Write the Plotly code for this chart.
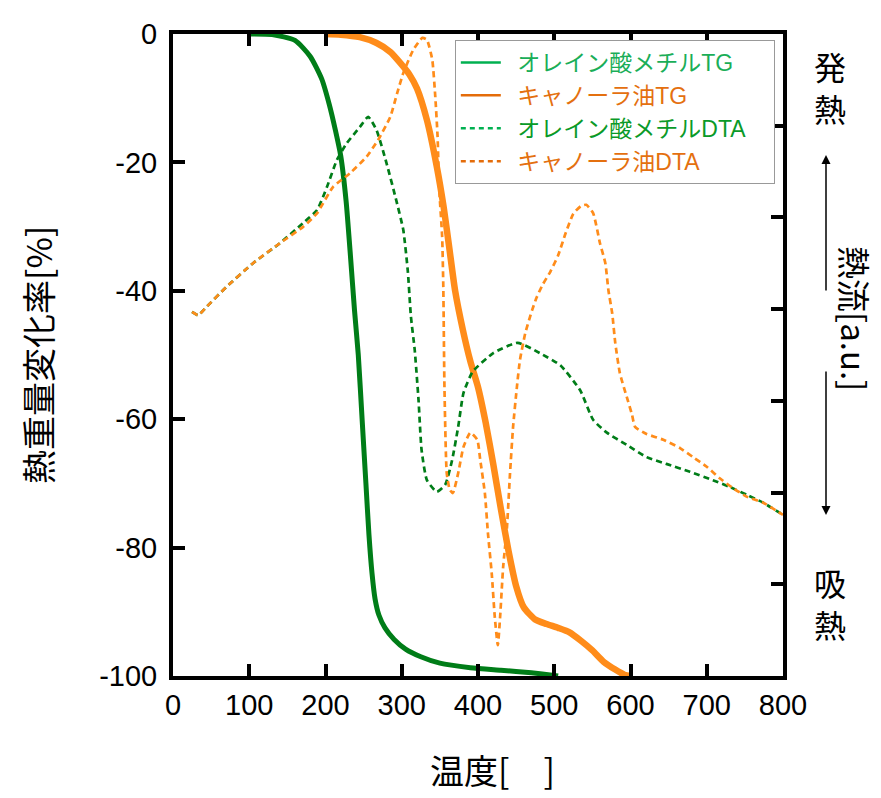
import plotly.graph_objects as go

# ---------------- data ----------------
# TG (left axis, %)
tg_green_T = [100, 130, 160, 180, 195, 205, 213, 220, 227, 233, 238, 243, 248, 253, 257, 261, 265, 270, 278, 290, 305, 325, 350, 390, 430, 470, 500, 505]
tg_green_v = [0, -0.1, -1, -3.5, -7, -11, -15, -19, -26, -35, -43, -50, -60, -70, -78, -84, -88, -90.5, -92.5, -94.3, -95.8, -97, -98, -98.7, -99.1, -99.5, -99.9, -100]

tg_orange_T = [200, 220, 245, 267, 285, 298, 310, 320, 333, 346, 355, 362, 370, 380, 390, 400, 410, 420, 430, 440, 450, 460, 475, 490, 505, 520, 535, 550, 565, 580, 592, 600]
tg_orange_v = [0, -0.1, -0.5, -1.4, -2.8, -4.5, -6.3, -8.5, -13.4, -20.7, -27, -33, -40, -46, -51, -55, -60.5, -67, -74, -80.5, -86, -89.3, -91.2, -91.9, -92.5, -93.2, -94.5, -96, -97.8, -99, -99.8, -100]

# DTA (right axis, a.u., expressed on the same 0..-100 scale)
dta_green_T = [25, 33, 44, 70, 105, 140, 171, 189, 202, 215, 228, 245, 256, 267, 280, 293, 302, 308, 312, 317, 322, 326, 333, 346, 357, 366, 374, 381, 393, 420, 452, 481, 508, 534, 551, 569, 595, 621, 648, 678, 708, 731, 753, 774, 800]
dta_green_v = [-43.3, -43.8, -42.5, -39.4, -35.7, -32.6, -29.4, -27.4, -23.8, -19.6, -17, -14.5, -12.9, -15, -20.1, -26, -30.5, -37, -44, -49.2, -57, -64.8, -69.5, -71.3, -70.2, -66.4, -61.2, -55.9, -52.6, -49.7, -48.1, -49.7, -51.6, -55.5, -60.1, -62.1, -64, -65.9, -67, -68.2, -69.5, -70.6, -71.8, -73, -74.9]

dta_orange_T = [25, 33, 44, 70, 105, 140, 171, 189, 210, 232, 254, 269, 285, 294, 302, 315, 327, 333, 340, 344, 347, 349, 353, 354.5, 355, 356, 359, 363, 367, 374, 381, 390, 399, 403, 409, 413, 418, 422, 426, 429, 433, 438, 442, 446, 451, 455, 462, 471, 477, 485, 495, 505, 515, 525, 535, 542, 551, 560, 567, 571, 576, 580, 586, 595, 602, 606, 621, 643, 665, 682, 700, 717, 734, 753, 774, 800]
dta_orange_v = [-43.3, -43.8, -42.5, -39.4, -35.7, -32.6, -30, -27.9, -23.8, -21.7, -19.1, -16.5, -12.9, -9.2, -6.1, -2.5, -0.6, -0.9, -4, -9.8, -16, -23.8, -31.6, -39.4, -44.5, -55, -68.4, -71, -71.5, -68.4, -64.3, -62.1, -63.2, -66.4, -71.5, -77.7, -84, -90.8, -95.2, -90.8, -83, -76.8, -68.4, -61.2, -55, -50.8, -46.6, -43, -41, -39, -37, -34.5, -31, -28, -26.8, -26.6, -27.9, -32.6, -35.7, -39.9, -43.5, -48.1, -52.8, -56.5, -59.3, -61.2, -62.3, -63.2, -64.5, -65.9, -67.4, -69.2, -70.7, -72.1, -73, -74.9]

x_ticks = [0, 100, 200, 300, 400, 500, 600, 700, 800]
y_ticks = [0, -20, -40, -60, -80, -100]
y_ticktext = ["0", "-20", "-40", "-60", "-80", "-100"]
y2_ticks = [-100 * k / 7 for k in range(1, 7)]

legend_names = ["オレイン酸メチルTG", "キャノーラ油TG", "オレイン酸メチルDTA", "キャノーラ油DTA"]

# ---------------- style ----------------
GREEN = "#007d18"
ORANGE = "#ff8c1a"
LEG_GREEN = "#00b050"
LEG_ORANGE = "#e46c0a"
LEG_TXT = ["#1aae58", "#e4700f", "#0a9a28", "#e4700f"]
FONT = "Liberation Sans, Arial, Noto Sans CJK JP"
CJK = "Noto Sans CJK JP"

fig = go.Figure()

fig.add_trace(go.Scatter(x=tg_green_T, y=tg_green_v, mode="lines", line=dict(color=GREEN, width=5, shape="spline", smoothing=0.6), showlegend=False))
fig.add_trace(go.Scatter(x=tg_orange_T, y=tg_orange_v, mode="lines", line=dict(color=ORANGE, width=6.5, shape="spline", smoothing=0.6), showlegend=False))
fig.add_trace(go.Scatter(x=dta_green_T, y=dta_green_v, mode="lines", yaxis="y2", line=dict(color=GREEN, width=2.7, dash="6px,4px", shape="spline", smoothing=0.5), showlegend=False))
fig.add_trace(go.Scatter(x=dta_orange_T, y=dta_orange_v, mode="lines", yaxis="y2", line=dict(color=ORANGE, width=2.7, dash="6px,4px", shape="spline", smoothing=0.5), showlegend=False))

# legend-only entries
leg_styles = [(LEG_GREEN, "solid"), (LEG_ORANGE, "solid"), (LEG_GREEN, "5px,4px"), (LEG_ORANGE, "5px,4px")]
for name, (col, dash), tcol in zip(legend_names, leg_styles, LEG_TXT):
    fig.add_trace(go.Scatter(x=[None], y=[None], mode="lines", line=dict(color=col, width=2.5, dash=dash),
                             name=f"<span style='color:{tcol}'>\u2002{name}\u2003</span>"))

axis_common = dict(showline=True, linewidth=4, linecolor="black", ticks="inside", ticklen=12, tickwidth=4,
                   tickcolor="black", showgrid=False, zeroline=False, tickfont=dict(family=FONT, size=29, color="black"))

fig.update_layout(
    width=881, height=798,
    margin=dict(l=173, r=98, t=34, b=122),
    paper_bgcolor="white", plot_bgcolor="white",
    font=dict(family=FONT, color="black"),
    xaxis=dict(range=[0, 800], tickvals=x_ticks, mirror="ticks", **axis_common),
    yaxis=dict(range=[-100, 0], tickvals=y_ticks, ticktext=y_ticktext, mirror=True, ticklabelstandoff=6, **axis_common),
    yaxis2=dict(range=[-100, 0], overlaying="y", side="right", tickvals=y2_ticks, showticklabels=False, **axis_common),
    legend=dict(x=0.462, y=(676 - 40) / 642, xanchor="left", yanchor="top", bgcolor="white", bordercolor="#999999", borderwidth=1,
                font=dict(family=FONT, size=23), itemwidth=40, tracegroupgap=0),
    showlegend=True,
)

ann = []
# axis titles
ann.append(dict(text="熱重量変化率[%]", xref="paper", yref="paper", x=(37 - 173) / 610, y=0.5, textangle=-90,
                showarrow=False, font=dict(family=CJK, size=34, color="black"), xanchor="center", yanchor="middle"))
ann.append(dict(text="温度[　]", xref="paper", yref="paper", x=(492 - 173) / 610, y=(676 - 769) / 642,
                showarrow=False, font=dict(family=CJK, size=34, color="black"), xanchor="center", yanchor="middle"))
# right side labels
ann.append(dict(text="発<br>熱", xref="paper", yref="paper", x=(830 - 173) / 610, y=(676 - 87) / 642,
                showarrow=False, font=dict(family=CJK, size=32, color="black"), xanchor="center", yanchor="middle"))
ann.append(dict(text="吸<br>熱", xref="paper", yref="paper", x=(830 - 173) / 610, y=(676 - 603) / 642,
                showarrow=False, font=dict(family=CJK, size=32, color="black"), xanchor="center", yanchor="middle"))
ann.append(dict(text="熱流[a.u.]", xref="paper", yref="paper", x=(855 - 173) / 610, y=(676 - 318) / 642, textangle=90,
                showarrow=False, font=dict(family=CJK, size=33, color="black"), xanchor="center", yanchor="middle"))
# arrows
ann.append(dict(text="", xref="paper", yref="paper", x=(826 - 173) / 610, y=(676 - 155) / 642, ax=0, ay=137,
                showarrow=True, arrowhead=2, arrowsize=1.2, arrowwidth=1.5, arrowcolor="black"))
ann.append(dict(text="", xref="paper", yref="paper", x=(826 - 173) / 610, y=(676 - 515) / 642, ax=0, ay=-145,
                showarrow=True, arrowhead=2, arrowsize=1.2, arrowwidth=1.5, arrowcolor="black"))
fig.update_layout(annotations=ann)

fig.write_html("out.html", config={"displayModeBar": False},
               post_script="document.body.style.margin='0px';document.body.style.overflow='hidden';")
